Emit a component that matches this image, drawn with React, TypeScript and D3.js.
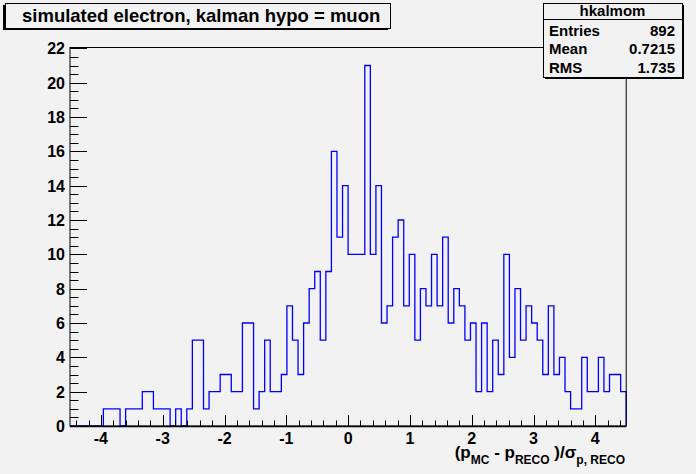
import { useEffect, useRef } from 'react'
import * as d3 from 'd3'

// histogram "hkalmom": 100 bins from -4.5 to 4.5
const xMin = -4.5
const xMax = 4.5
const binCounts = [
  0, 0, 0, 0, 0, 0, 1, 1, 1, 0,
  1, 1, 1, 2, 2, 1, 1, 1, 0, 1,
  0, 1, 5, 5, 1, 2, 2, 3, 3, 2,
  2, 6, 6, 1, 2, 5, 2, 2, 3, 7,
  5, 3, 6, 8, 9, 5, 9, 16, 11, 14,
  10, 10, 10, 21, 10, 14, 6, 7, 11, 12,
  7, 10, 5, 8, 7, 10, 7, 11, 6, 8,
  7, 5, 6, 2, 6, 2, 5, 3, 10, 4,
  8, 5, 7, 6, 5, 3, 7, 3, 4, 2,
  1, 1, 4, 2, 2, 4, 2, 3, 3, 2,
]
const xTickLabels = [-4, -3, -2, -1, 0, 1, 2, 3, 4]
const yTickLabels = [0, 2, 4, 6, 8, 10, 12, 14, 16, 18, 20, 22]
const statRows = [
  { label: 'Entries', value: '892' },
  { label: 'Mean', value: '0.7215' },
  { label: 'RMS', value: '1.735' },
]
const histName = 'hkalmom'
const chartTitle = 'simulated electron, kalman hypo = muon'
// x axis title pieces, true = subscript
const xTitleParts: [string, boolean][] = [
  ['(p', false], ['MC', true], [' - p', false], ['RECO', true],
  [' )/\u03c3', false], ['p, RECO', true],
]

const W = 696
const H = 474
const FONT = '"Liberation Sans", Arial, Helvetica, sans-serif'

export default function App() {
  const svgRef = useRef<SVGSVGElement>(null)

  useEffect(() => {
    if (!svgRef.current) return
    const svg = d3.select(svgRef.current)
    svg.selectAll('*').remove()

    const frame = { left: 70, right: 626.2, top: 47.5, bottom: 426 }
    const yMax = d3.max(binCounts)! * 1.05

    const x = d3.scaleLinear().domain([xMin, xMax]).range([frame.left, frame.right])
    const y = d3.scaleLinear().domain([0, yMax]).range([frame.bottom, frame.top])

    // canvas background
    svg.append('rect')
      .attr('width', W)
      .attr('height', H)
      .style('fill', '#f2f2f2')

    // histogram outline (step shape)
    const binWidth = (xMax - xMin) / binCounts.length
    const pts: [number, number][] = [[x(xMin), y(0)]]
    binCounts.forEach((c, i) => {
      const x0 = xMin + i * binWidth
      pts.push([x(x0), y(c)])
      pts.push([x(x0 + binWidth), y(c)])
    })
    pts.push([x(xMax), y(0)])

    svg.append('path')
      .attr('d', d3.line()(pts)!)
      .style('fill', 'none')
      .style('stroke', '#0000ff')
      .style('stroke-width', 1.3)

    // frame
    svg.append('rect')
      .attr('x', frame.left)
      .attr('y', frame.top)
      .attr('width', frame.right - frame.left)
      .attr('height', frame.bottom - frame.top)
      .style('fill', 'none')
      .style('stroke', '#000')
      .style('stroke-width', 1)

    const axisG = svg.append('g').style('stroke', '#000').style('stroke-width', 1)

    // y ticks: major every 2, minor every 0.5
    d3.range(0, 22.01, 0.5).forEach(v => {
      const major = Math.abs(v % 2) < 1e-6
      axisG.append('line')
        .attr('x1', frame.left)
        .attr('x2', frame.left + (major ? 17 : 8.5))
        .attr('y1', Math.round(y(v)) + 0.5)
        .attr('y2', Math.round(y(v)) + 0.5)
    })

    // x ticks: major every 1, minor every 0.2
    d3.range(-44, 45, 2).forEach(k => {
      const v = k / 10
      const major = k % 10 === 0
      axisG.append('line')
        .attr('x1', Math.round(x(v)) + 0.5)
        .attr('x2', Math.round(x(v)) + 0.5)
        .attr('y1', frame.bottom)
        .attr('y2', frame.bottom - (major ? 11 : 5.5))
    })

    // x axis line slightly heavier
    svg.append('line')
      .attr('x1', frame.left)
      .attr('x2', frame.right)
      .attr('y1', frame.bottom + 0.5)
      .attr('y2', frame.bottom + 0.5)
      .style('stroke', '#000')
      .style('stroke-width', 1.5)

    // y tick labels
    svg.append('g')
      .selectAll('text')
      .data(yTickLabels)
      .join('text')
      .attr('x', 65)
      .attr('y', d => y(d) + 6)
      .attr('text-anchor', 'end')
      .style('font-family', FONT)
      .style('font-weight', 'bold')
      .style('font-size', '16px')
      .style('fill', '#000')
      .text(d => d)

    // x tick labels
    svg.append('g')
      .selectAll('text')
      .data(xTickLabels)
      .join('text')
      .attr('x', d => x(d))
      .attr('y', 444)
      .attr('text-anchor', 'middle')
      .style('font-family', FONT)
      .style('font-weight', 'bold')
      .style('font-size', '16px')
      .style('fill', '#000')
      .text(d => d)

    // x axis title with subscripts (relative shifts keep one anchored chunk)
    const xt = svg.append('text')
      .attr('x', 625)
      .attr('y', 458)
      .attr('text-anchor', 'end')
      .style('font-family', FONT)
      .style('font-weight', 'bold')
      .style('font-size', '17px')
      .style('fill', '#000')
    let base = 458
    xTitleParts.forEach(([t, sub]) => {
      const target = sub ? 464 : 458
      xt.append('tspan')
        .attr('dy', target - base)
        .style('font-size', sub ? '12px' : '17px')
        .text(t)
      base = target
    })

    // title box (shadow left + bottom)
    const tb = { x: 5, y: 3, w: 385, h: 25 }
    svg.append('rect')
      .attr('x', tb.x - 2)
      .attr('y', tb.y + 2)
      .attr('width', tb.w)
      .attr('height', tb.h)
      .style('fill', '#000')
    svg.append('rect')
      .attr('x', tb.x + 0.5)
      .attr('y', tb.y + 0.5)
      .attr('width', tb.w)
      .attr('height', tb.h)
      .style('fill', '#f2f2f2')
      .style('stroke', '#000')
      .style('stroke-width', 1)
    svg.append('text')
      .attr('x', 22)
      .attr('y', 22)
      .style('font-family', FONT)
      .style('font-weight', 'bold')
      .style('font-size', '18.5px')
      .style('fill', '#000')
      .text(chartTitle)

    // stats box (shadow right + bottom)
    const sb = { x: 543, y: 3, w: 139, h: 74 }
    svg.append('rect')
      .attr('x', sb.x + 2)
      .attr('y', sb.y + 2)
      .attr('width', sb.w)
      .attr('height', sb.h)
      .style('fill', '#000')
    svg.append('rect')
      .attr('x', sb.x + 0.5)
      .attr('y', sb.y + 0.5)
      .attr('width', sb.w)
      .attr('height', sb.h)
      .style('fill', '#f2f2f2')
      .style('stroke', '#000')
      .style('stroke-width', 1)
    svg.append('line')
      .attr('x1', sb.x)
      .attr('x2', sb.x + sb.w)
      .attr('y1', 19.5)
      .attr('y2', 19.5)
      .style('stroke', '#000')
    svg.append('text')
      .attr('x', sb.x + sb.w / 2)
      .attr('y', 16)
      .attr('text-anchor', 'middle')
      .style('font-family', FONT)
      .style('font-weight', 'bold')
      .style('font-size', '15px')
      .style('fill', '#000')
      .text(histName)
    statRows.forEach((r, i) => {
      const by = 36 + i * 18.4
      svg.append('text')
        .attr('x', 549)
        .attr('y', by)
        .style('font-family', FONT)
        .style('font-weight', 'bold')
        .style('font-size', '15px')
        .style('fill', '#000')
        .text(r.label)
      svg.append('text')
        .attr('x', 675)
        .attr('y', by)
        .attr('text-anchor', 'end')
        .style('font-family', FONT)
        .style('font-weight', 'bold')
        .style('font-size', '15px')
        .style('fill', '#000')
        .text(r.value)
    })
  }, [])

  return (
    <svg
      ref={svgRef}
      width={W}
      height={H}
      style={{ position: 'absolute', left: 0, top: 0, display: 'block' }}
    />
  )
}
